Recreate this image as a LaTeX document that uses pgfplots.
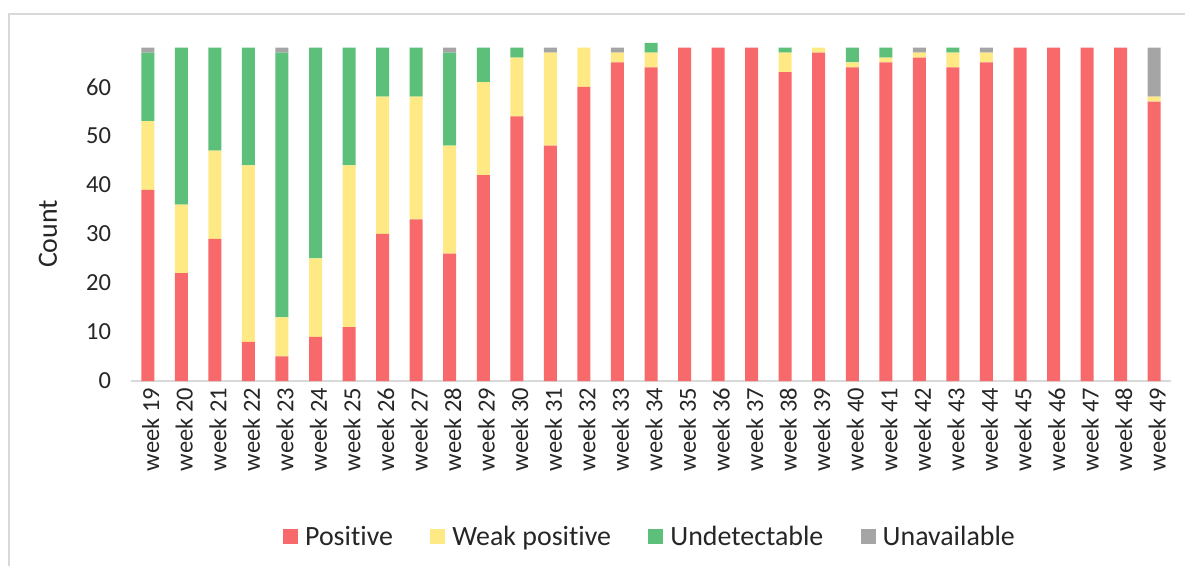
\documentclass[border=0pt]{standalone}
\usepackage{fontspec}
\setmainfont{Carlito}[Ligatures=NoCommon]
\usepackage{pgfplots}
\pgfplotsset{compat=1.18}
\definecolor{cpos}{HTML}{F8696B}
\definecolor{cweak}{HTML}{FFE984}
\definecolor{cund}{HTML}{5CBF7A}
\definecolor{cuna}{HTML}{A5A5A5}
\definecolor{frame}{HTML}{D9D9D9}
\definecolor{txt}{HTML}{262626}
\begin{document}
\begin{tikzpicture}
\useasboundingbox (0,0) rectangle (592.5bp,283bp);
\draw[frame, line width=1.2bp] (4.5bp,0) -- (4.5bp,276bp) -- (592.5bp,276bp);
\begin{axis}[
  at={(65.5bp,92.5bp)}, anchor=south west,
  scale only axis,
  width=520bp, height=169.1bp,
  xmin=-0.5, xmax=30.5, ymin=0, ymax=69,
  enlargelimits=false, clip=false,
  ybar stacked, bar width=6.5bp,
  axis x line*=bottom, axis y line*=left,
  x axis line style={draw=frame, line width=1bp, -},
  y axis line style={draw=none},
  major tick length=0pt,
  xtick={0,...,30},
  xticklabels={week 19,week 20,week 21,week 22,week 23,week 24,week 25,week 26,week 27,week 28,week 29,week 30,week 31,week 32,week 33,week 34,week 35,week 36,week 37,week 38,week 39,week 40,week 41,week 42,week 43,week 44,week 45,week 46,week 47,week 48,week 49},
  xticklabel style={rotate=90, anchor=east, font=\fontsize{12.3}{14}\selectfont, text=txt, yshift=-1.5bp},
  ytick={0,10,...,60},
  yticklabel style={anchor=east, font=\fontsize{12.3}{14}\selectfont, text=txt, xshift=-6.5bp},
  /pgf/number format/assume math mode=true,
  ylabel={Count},
  ylabel style={at={(axis description cs:-0.0798,0.435)}, anchor=center, font=\fontsize{14}{16}\selectfont, text=txt},
  legend columns=-1,
  legend style={at={(axis description cs:0.5,-0.461)}, anchor=center, draw=none, fill=none,
    font=\fontsize{14}{16}\selectfont, text=txt,
    /tikz/every even column/.append style={column sep=16.7bp}},
  legend image code/.code={\fill[#1] (0bp,-3.75bp) rectangle (7.5bp,3.75bp); \path (9bp,0bp);},
]
\addplot[fill=cpos, draw=none] coordinates {
(0,39)(1,22)(2,29)(3,8)(4,5)(5,9)(6,11)(7,30)(8,33)(9,26)(10,42)(11,54)(12,48)(13,60)(14,65)(15,64)(16,68)(17,68)(18,68)(19,63)(20,67)(21,64)(22,65)(23,66)(24,64)(25,65)(26,68)(27,68)(28,68)(29,68)(30,57)};
\addplot[fill=cweak, draw=none] coordinates {
(0,14)(1,14)(2,18)(3,36)(4,8)(5,16)(6,33)(7,28)(8,25)(9,22)(10,19)(11,12)(12,19)(13,8)(14,2)(15,3)(16,0)(17,0)(18,0)(19,4)(20,1)(21,1)(22,1)(23,1)(24,3)(25,2)(26,0)(27,0)(28,0)(29,0)(30,1)};
\addplot[fill=cund, draw=none] coordinates {
(0,14)(1,32)(2,21)(3,24)(4,54)(5,43)(6,24)(7,10)(8,10)(9,19)(10,7)(11,2)(12,0)(13,0)(14,0)(15,2)(16,0)(17,0)(18,0)(19,1)(20,0)(21,3)(22,2)(23,0)(24,1)(25,0)(26,0)(27,0)(28,0)(29,0)(30,0)};
\addplot[fill=cuna, draw=none] coordinates {
(0,1)(1,0)(2,0)(3,0)(4,1)(5,0)(6,0)(7,0)(8,0)(9,1)(10,0)(11,0)(12,1)(13,0)(14,1)(15,0)(16,0)(17,0)(18,0)(19,0)(20,0)(21,0)(22,0)(23,1)(24,0)(25,1)(26,0)(27,0)(28,0)(29,0)(30,10)};
\legend{Positive,Weak positive,Undetectable,Unavailable}
\end{axis}
\end{tikzpicture}
\end{document}
